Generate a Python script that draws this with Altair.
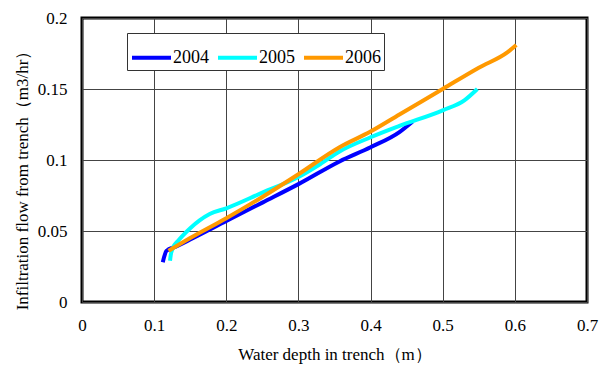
import altair as alt
import pandas as pd

years = ["2004", "2005", "2006"]
colors = ["#0000FF", "#00FFFF", "#FF9900"]

x2004 = [0.112, 0.114, 0.117, 0.13, 0.15, 0.2, 0.25, 0.3, 0.357, 0.4, 0.44, 0.458]
y2004 = [0.028, 0.032, 0.036, 0.039, 0.044, 0.057, 0.070, 0.083, 0.099, 0.109, 0.1197, 0.127]

x2005 = [0.122, 0.123, 0.126, 0.133, 0.14, 0.15, 0.163, 0.177, 0.2, 0.25, 0.3, 0.33, 0.357, 0.4, 0.44, 0.5, 0.53, 0.548]
y2005 = [0.029, 0.033, 0.038, 0.043, 0.047, 0.052, 0.0575, 0.062, 0.066, 0.077, 0.088, 0.097, 0.106, 0.116, 0.124, 0.135, 0.142, 0.150]

x2006 = [0.12, 0.15, 0.2, 0.25, 0.3, 0.357, 0.4, 0.44, 0.5, 0.55, 0.59, 0.602]
y2006 = [0.036, 0.045, 0.059, 0.074, 0.090, 0.109, 0.120, 0.132, 0.150, 0.165, 0.176, 0.181]

rows = []
for yr, xs, ys in [("2004", x2004, y2004), ("2005", x2005, y2005), ("2006", x2006, y2006)]:
    for i, (a, b) in enumerate(zip(xs, ys)):
        rows.append({"year": yr, "x": a, "y": b, "i": i})
df = pd.DataFrame(rows)

font = "Liberation Serif"

chart = alt.Chart(df).mark_line(strokeWidth=4, clip=True, interpolate="monotone").encode(
    x=alt.X("x:Q", scale=alt.Scale(domain=[0, 0.7], nice=False),
            axis=alt.Axis(values=[0, 0.1, 0.2, 0.3, 0.4, 0.5, 0.6, 0.7], format="~g",
                          labelFlush=False, labelFont=font, titleFont=font,
                          titleY=44, titleBaseline="top",
                          title="Water depth in trench（m）")),
    y=alt.Y("y:Q", scale=alt.Scale(domain=[0, 0.2], nice=False),
            axis=alt.Axis(values=[0, 0.05, 0.1, 0.15, 0.2], format="~g",
                          labelFlush=False, labelFont=font, titleFont=font,
                          titleX=-51, titleY=158, titleBaseline="bottom",
                          title="Infiltration flow from trench（m3/hr）")),
    color=alt.Color("year:N", scale=alt.Scale(domain=years, range=colors),
                    legend=alt.Legend(orient="none", legendX=45, legendY=15, direction="horizontal",
                                      title=None, symbolType="stroke", symbolStrokeWidth=4,
                                      symbolSize=1521, labelFontSize=18, labelFont=font,
                                      labelColor="black", labelOffset=0, columnPadding=1,
                                      padding=3, fillColor="white", strokeColor="#333")),
    order="i:Q",
).properties(
    width=505, height=284,
    autosize=alt.AutoSizeParams(type="none"),
    padding={"left": 74, "top": 10, "right": 12, "bottom": 62},
).configure(
    font=font
).configure_view(
    stroke="black", strokeWidth=3
).configure_axis(
    domain=False, ticks=False, grid=True, gridColor="#444", gridWidth=1, gridOpacity=1,
    labelFontSize=17, labelColor="black",
    titleFontSize=17, titleColor="black", titleFontWeight="normal",
).configure_axisX(
    labelPadding=15
).configure_axisY(
    labelPadding=15
)

chart.save("out.html", embed_options={"renderer": "svg", "actions": False})
